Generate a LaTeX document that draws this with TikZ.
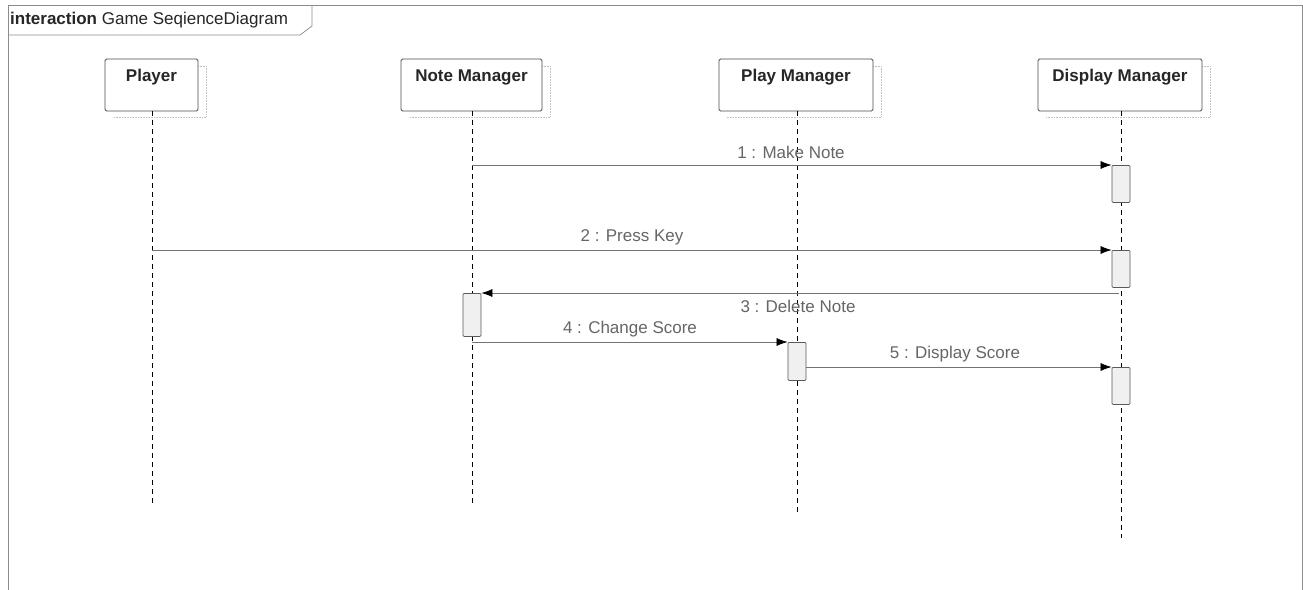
\documentclass[tikz,border=0pt]{standalone}
\usepackage{fontspec}
\setmainfont{Liberation Sans}
\usetikzlibrary{arrows.meta}

\begin{document}
\begin{tikzpicture}[x=1pt, y=-1pt,
  framebox/.style={draw=black!45, line width=0.7pt},
  headbox/.style={draw=black!70, line width=0.8pt, fill=white, rounded corners=1.5pt,
    minimum height=52pt, inner sep=0pt},
  headshadow/.style={draw=black!25, line width=0.6pt, densely dotted},
  headtitle/.style={font=\fontsize{17}{20}\selectfont\bfseries, text=black!85},
  lifeline/.style={draw=black, line width=0.6pt, dash pattern=on 5pt off 4pt},
  activation/.style={draw=black!65, line width=0.8pt, fill=black!6, rounded corners=1pt,
    minimum width=18pt, inner sep=0pt},
  message/.style={draw=black!55, line width=0.7pt, -{Latex[length=11pt,width=8pt,color=black]}},
  msglabel/.style={font=\fontsize{17}{20}\selectfont, text=black!60, inner sep=1pt},
]
\clip (0,0) rectangle (1303,589);
\fill[white] (0,0) rectangle (1303,589);

% interaction frame and its name tab
\draw[framebox] (8,5) rectangle (1302,620);
\draw[framebox] (8,35) -- (300,35) -- (312,26) -- (312,5);
\node[anchor=west, inner sep=0pt, font=\fontsize{17}{20}\selectfont, text=black!85] (title)
  at (10,20) {\textbf{interaction} Game SeqienceDiagram};

% lifeline heads (with faint drop shadows)
\foreach \cx/\w in {151.5/93, 471.5/141, 796/154, 1120/164} {
  \draw[headshadow] (\cx+\w/2,66) -- (\cx+\w/2+8,66) -- (\cx+\w/2+8,117) -- (\cx-\w/2+8,117);
}
\node[headbox, minimum width=93pt]  (player)  at (151.5,85) {};
\node[headbox, minimum width=141pt] (notemgr) at (471.5,85) {};
\node[headbox, minimum width=154pt] (playmgr) at (796,85) {};
\node[headbox, minimum width=164pt] (dispmgr) at (1120,85) {};
\node[headtitle] (tPlayer)  at (151.5,77) {Player};
\node[headtitle] (tNote)    at (471.5,77) {Note Manager};
\node[headtitle] (tPlay)    at (796,77)   {Play Manager};
\node[headtitle] (tDisplay) at (1120,77)  {Display Manager};

% lifeline ends
\coordinate (playerEnd) at (152,507);
\coordinate (noteEnd)   at (472,507);
\coordinate (playEnd)   at (797,516);
\coordinate (dispEnd)   at (1121,538);

\draw[lifeline] (player.south -| playerEnd) -- (playerEnd);
\draw[lifeline] (notemgr.south -| noteEnd) -- (noteEnd);
\draw[lifeline] (playmgr.south -| playEnd) -- (playEnd);
\draw[lifeline] (dispmgr.south -| dispEnd) -- (dispEnd);

% activation bars
\node[activation, minimum height=37pt, anchor=north] (act1) at (1121,165) {};
\node[activation, minimum height=37pt, anchor=north] (act2) at (1121,250) {};
\node[activation, minimum height=43pt, anchor=north] (act3) at (472,293) {};
\node[activation, minimum height=38pt, anchor=north] (act4) at (797,342) {};
\node[activation, minimum height=37pt, anchor=north] (act5) at (1121,367) {};

% message sources on lifelines
\coordinate (m1src) at (472,165);
\coordinate (m2src) at (152,250);
\coordinate (m3src) at (1119,293);
\coordinate (m4src) at (472,342);
\coordinate (m5src) at (806,367);

% messages
\draw[message] (m1src) -- (act1.north west);
\node[msglabel] (l1) at (791,152) {1 : Make Note};

\draw[message] (m2src) -- (act2.north west);
\node[msglabel] (l2) at (632,237) {2 : Press Key};

\draw[message] (m3src) -- (act3.north east);
\node[msglabel] (l3) at (798,306) {3 : Delete Note};

\draw[message] (m4src) -- (act4.north west);
\node[msglabel] (l4) at (630,329) {4 : Change Score};

\draw[message] (m5src) -- (act5.north west);
\node[msglabel] (l5) at (955,354) {5 : Display Score};
\end{tikzpicture}
\end{document}
